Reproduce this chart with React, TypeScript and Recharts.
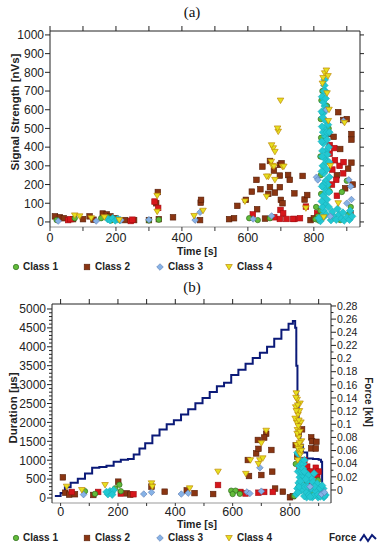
import React from "react";
import { ScatterChart, ComposedChart, Scatter, Line, XAxis, YAxis } from "recharts";

const FONT = '"Liberation Sans", Arial, sans-serif';

// axis ticks
const timeTicks = [0, 100, 200, 300, 400, 500, 600, 700, 800, 900];
const signalTicks = [0, 100, 200, 300, 400, 500, 600, 700, 800, 900, 1000];
const durationTicks = Array.from({ length: 51 }, (_, i) => i * 100);
const forceTicks = Array.from({ length: 29 }, (_, i) => +(i * 0.01).toFixed(2));

// (a) signal strength [nVs] vs time [s]
const aClass1 = [
  [20, 10], [75, 20], [155, 20], [175, 25], [200, 15], [185, 8], [300, 8], [330, 12], [630, 10], [604, 20],
  [667, 20], [807, 80], [812, 30], [805, 15], [820, 60], [822, 150], [821, 250], [820, 350], [822, 450],
  [821, 550], [823, 650], [826, 700], [848, 163], [842, 185], [885, 160], [900, 220], [912, 80], [905, 40],
  [880, 10], [860, 20], [840, 620], [845, 500], [815, 8],
];
const aClass2 = [
  [15, 30], [30, 25], [42, 20], [70, 15], [100, 15], [120, 30], [132, 12], [160, 45], [172, 40], [183, 30],
  [198, 20], [228, 10], [255, 10], [300, 10], [327, 160], [322, 100], [330, 15], [373, 25], [457, 103],
  [458, 118], [455, 10], [543, 15], [558, 20], [568, 86], [594, 118], [612, 162], [626, 225], [628, 68],
  [638, 175], [644, 296], [662, 150], [667, 186], [667, 326], [679, 275], [682, 157], [697, 305], [697, 248],
  [697, 186], [700, 118], [705, 100], [702, 314], [722, 251], [727, 225], [741, 153], [766, 246], [772, 120],
  [780, 144], [652, 18], [845, 470], [860, 455], [874, 587], [889, 545], [900, 550], [914, 470], [914, 440],
  [880, 390], [904, 285], [914, 317], [911, 46], [870, 250], [895, 180], [918, 200], [790, 10], [800, 20],
];
const aClass2Red = [
  [55, 10], [62, 15], [245, 5], [250, 12], [317, 109], [328, 75], [615, 40], [699, 64], [707, 46], [697, 16],
  [717, 16], [741, 16], [680, 25], [737, 16], [758, 20], [776, 82], [810, 46], [848, 411], [862, 395],
  [848, 365], [864, 330], [878, 300], [889, 260], [868, 225], [855, 200], [870, 140], [890, 320], [856, 280],
];
const aClass3 = [
  [25, 5], [140, 5], [215, 10], [300, 12], [440, 10], [455, 52], [616, 16], [672, 32], [808, 239], [812, 225],
  [906, 225], [912, 190], [914, 120], [900, 100], [890, 540], [838, 600], [850, 30],
];
const aClass3Dense = [
  [175, 15], [182, 10], [190, 20], [198, 8], [205, 15], [212, 10],
  [826, 20], [830, 60], [834, 100], [828, 140], [832, 180], [836, 220], [830, 260], [827, 300], [833, 340],
  [837, 380], [829, 420], [834, 460], [831, 500], [836, 540], [828, 580], [833, 620], [830, 660], [835, 700],
  [832, 730], [838, 40], [840, 120], [842, 200], [839, 280], [841, 360], [840, 440], [843, 520], [826, 80],
  [829, 200], [826, 380], [828, 480], [827, 560], [829, 640],
  [824, 30], [824, 110], [825, 190], [824, 270], [825, 350], [824, 430], [825, 510], [824, 590], [825, 670],
  [838, 160], [838, 320], [839, 480], [837, 600], [836, 660], [831, 700], [833, 760], [845, 80], [846, 160],
  [847, 240], [846, 320], [845, 400], [847, 480],
  [852, 10], [860, 30], [868, 12], [876, 40], [884, 18], [892, 8], [900, 25], [908, 12], [916, 30], [856, 55],
  [872, 70], [888, 50], [910, 60], [820, 5], [815, 20],
];
const aClass4 = [
  [75, 35], [90, 30], [125, 20], [165, 25], [210, 10], [325, 55], [325, 140], [437, 32], [464, 60], [591, 110],
  [657, 135], [662, 242], [657, 243], [671, 322], [674, 300], [679, 296], [682, 225], [677, 394], [672, 410],
  [682, 375], [692, 483], [690, 500], [699, 649], [705, 295], [709, 296], [776, 73], [833, 795], [828, 770],
  [838, 810], [843, 780], [826, 740], [840, 688], [846, 600], [844, 540], [874, 100], [893, 530], [850, 300],
  [830, 25],
];

// (b) duration [µs] vs time [s]
const bClass1 = [
  [85, 180], [190, 256], [205, 350], [595, 194], [610, 194], [600, 105], [625, 110], [850, 560], [855, 350],
  [898, 470], [830, 300], [905, 200], [880, 150], [820, 900], [815, 50], [210, 180], [120, 110],
];
const bClass2 = [
  [8, 547], [16, 140], [30, 90], [50, 100], [114, 80], [230, 123], [243, 90], [201, 432], [317, 300], [363, 167],
  [440, 200], [467, 130], [532, 105], [653, 1005], [657, 582], [682, 1180], [688, 1535], [690, 1300], [700, 608],
  [717, 1700], [710, 1600], [735, 1270], [738, 697], [748, 250], [775, 167], [842, 1817], [874, 1605],
  [877, 1500], [874, 1313], [892, 1487], [890, 1310], [800, 20], [810, 50], [820, 1400], [825, 1100], [830, 1700],
];
const bClass2Red = [
  [39, 160], [131, 160], [210, 120], [254, 100], [549, 344], [627, 160], [710, 160], [740, 160], [850, 1005],
  [833, 830], [860, 830], [850, 600], [872, 560], [883, 650], [866, 380], [890, 800], [895, 600], [900, 700],
  [870, 700], [645, 120], [690, 140],
];
const bClass3 = [
  [80, 90], [290, 105], [317, 150], [421, 105], [445, 130], [650, 160], [660, 120], [695, 800], [700, 180],
  [910, 100], [870, 300], [920, 150],
];
const bClass3Dense = [
  [165, 100], [172, 180], [178, 140], [185, 212], [160, 160], [180, 90],
  [822, 100], [826, 250], [830, 400], [834, 550], [828, 700], [832, 850], [836, 1000], [830, 1150], [834, 1300],
  [840, 200], [844, 600], [838, 900], [826, 1200], [842, 350],
  [828, 150], [832, 300], [836, 450], [840, 700], [846, 900], [850, 1000], [852, 300], [856, 650], [860, 450],
  [864, 600], [868, 200], [876, 500], [884, 650], [892, 250], [900, 300], [908, 180], [916, 250], [924, 80],
  [858, 20], [878, 20], [898, 20], [918, 20],
  [850, 50], [858, 150], [866, 80], [874, 250], [882, 60], [890, 180], [898, 90], [906, 40], [914, 120],
  [920, 60], [862, 300], [880, 420], [855, 500], [895, 380], [870, 30], [886, 300], [905, 260], [912, 330],
  [845, 780], [850, 700],
];
const bClass4 = [
  [74, 212], [155, 344], [317, 388], [320, 300], [450, 256], [549, 697], [646, 640], [662, 1000], [695, 1000],
  [700, 1450], [705, 1050], [717, 1780], [690, 900], [822, 2770], [825, 2600], [820, 2400], [828, 2200],
  [823, 2000], [826, 1800], [830, 1600], [824, 1400], [832, 1200], [827, 1000], [835, 2500], [838, 2000],
  [840, 1500], [818, 2100], [21, 300], [821, 2650], [827, 2450], [833, 2300], [829, 1900], [825, 1700],
  [835, 1750], [837, 1350], [833, 1450], [829, 1300], [836, 1150], [840, 1250], [822, 2300], [831, 2050],
];
// force [kN] vs time [s]
const force = [
  [-20, -0.009], [0, -0.0045], [15, 0.004], [35, 0.011], [60, 0.017], [85, 0.025], [110, 0.034], [135, 0.035],
  [160, 0.037], [185, 0.043], [210, 0.046], [235, 0.047], [255, 0.054], [275, 0.063], [295, 0.071], [320, 0.083],
  [345, 0.092], [370, 0.1], [395, 0.106], [420, 0.115], [445, 0.123], [470, 0.132], [495, 0.14], [520, 0.149],
  [545, 0.158], [570, 0.163], [595, 0.175], [620, 0.183], [645, 0.192], [670, 0.201], [695, 0.209], [720, 0.218],
  [745, 0.23], [770, 0.244], [795, 0.253], [810, 0.257], [818, 0.247], [822, 0.189], [826, 0.132], [830, 0.092],
  [836, 0.069], [845, 0.057], [860, 0.048], [880, 0.047], [900, 0.046], [908, 0.043], [912, 0.005], [918, -0.008],
];

const sig = (rows: number[][]) => rows.map(([t, v]) => ({ t, v }));
const dur = (rows: number[][]) => rows.map(([t, d]) => ({ t, d }));
const forceData = force.map(([t, f]) => ({ t, f }));

const C1 = { fill: "#62bb3a", stroke: "#2f6e1c" };
const C2 = { fill: "#8a3512", stroke: "#561e08" };
const C2R = { fill: "#d6161b", stroke: "#a30c10" };
const C3 = { fill: "#86b2e6", stroke: "#5a78b0" };
const C3D = { fill: "#22c8d2", stroke: "#1aaeb8" };
const C4 = { fill: "#e6e01e", stroke: "#c08a0a" };

const circle = (c: any) => (p: any) => (
  <circle cx={p.cx} cy={p.cy} r={2.7} fill={c.fill} stroke={c.stroke} strokeWidth={0.7} />
);
const square = (c: any) => (p: any) => (
  <rect x={p.cx - 2.8} y={p.cy - 2.8} width={5.6} height={5.6} fill={c.fill} stroke={c.stroke} strokeWidth={0.6} />
);
const diamond = (c: any, r = 3.3) => (p: any) => (
  <path
    d={`M${p.cx},${p.cy - r}L${p.cx + r},${p.cy}L${p.cx},${p.cy + r}L${p.cx - r},${p.cy}Z`}
    fill={c.fill}
    stroke={c.stroke}
    strokeWidth={0.6}
  />
);
const triDown = (c: any) => (p: any) => (
  <path
    d={`M${p.cx - 3.3},${p.cy - 2.5}L${p.cx + 3.3},${p.cy - 2.5}L${p.cx},${p.cy + 3}Z`}
    fill={c.fill}
    stroke={c.stroke}
    strokeWidth={0.7}
  />
);

const tickText = { fontSize: 12, fill: "#222", fontFamily: FONT };
const timeTick = { fontSize: 12.5, fill: "#222", fontFamily: FONT };
const everyOther = (v: number) => (v % 200 === 0 ? String(v) : "");
const blank = () => "";

const DurTick = (props: any) => {
  const { x, y, payload } = props;
  const major = payload.value % 500 === 0;
  return (
    <g>
      <line x1={x - (major ? 5 : 3)} x2={x} y1={y} y2={y} stroke="#222" strokeWidth={1} />
      {major && (
        <text x={x - 6} y={y} dy="0.36em" textAnchor="end" {...tickText}>
          {payload.value}
        </text>
      )}
    </g>
  );
};

const ForceTick = (props: any) => {
  const { x, y, payload } = props;
  const major = Math.round(payload.value * 100) % 2 === 0;
  return (
    <g>
      <line x1={x} x2={x + (major ? 5 : 2.5)} y1={y} y2={y} stroke="#222" strokeWidth={1} />
      {major && (
        <text x={x + 6} y={y} dy="0.36em" textAnchor="start" fontSize={10.5} fill="#222" fontFamily={FONT}>
          {String(+payload.value.toFixed(2))}
        </text>
      )}
    </g>
  );
};

const Sym = ({ kind, c }: any) => {
  const p = { cx: 5, cy: 5 };
  const el =
    kind === "circle" ? circle(c)(p) : kind === "square" ? square(c)(p) : kind === "diamond" ? diamond(c)(p) : triDown(c)(p);
  return (
    <svg width={10} height={10} style={{ position: "absolute", left: -5, top: -5 }}>
      {el}
    </svg>
  );
};

const legendItems = [
  { label: "Class 1", kind: "circle", c: C1, x: 16, tx: 23 },
  { label: "Class 2", kind: "square", c: C2, x: 87, tx: 95 },
  { label: "Class 3", kind: "diamond", c: C3, x: 160, tx: 168 },
  { label: "Class 4", kind: "tri", c: C4, x: 229, tx: 237 },
];

const labelStyle: React.CSSProperties = {
  position: "absolute",
  fontFamily: FONT,
  fontWeight: "bold",
  color: "#222",
  lineHeight: "14px",
  whiteSpace: "nowrap",
};

const Legend = ({ y, force: withForce }: any) => (
  <>
    {legendItems.map((it) => (
      <React.Fragment key={it.label}>
        <div style={{ position: "absolute", left: it.x, top: y }}>
          <Sym kind={it.kind} c={it.c} />
        </div>
        <div style={{ ...labelStyle, left: it.tx, top: y - 7, fontSize: 10 }}>{it.label}</div>
      </React.Fragment>
    ))}
    {withForce && (
      <>
        <div style={{ ...labelStyle, left: 329, top: y - 7, fontSize: 10 }}>Force</div>
        <svg width={18} height={12} style={{ position: "absolute", left: 359, top: y - 6 }}>
          <path d="M1,9 L5,3 L9,9 L13,3 L17,7" fill="none" stroke="#0b1a78" strokeWidth={2} />
        </svg>
      </>
    )}
  </>
);

const Rotated = ({ text, cx, cy, angle, size }: any) => (
  <div
    style={{
      ...labelStyle,
      left: cx - 100,
      top: cy - 7,
      width: 200,
      textAlign: "center",
      fontSize: size,
      transform: `rotate(${angle}deg)`,
    }}
  >
    {text}
  </div>
);

const Title = ({ text, y }: any) => (
  <div
    style={{
      position: "absolute",
      left: 0,
      width: 384,
      top: y - 9,
      textAlign: "center",
      fontFamily: '"Liberation Serif", "Times New Roman", serif',
      fontSize: 15,
      lineHeight: "18px",
      color: "#111",
    }}
  >
    {text}
  </div>
);

export default function App() {
  return (
    <div style={{ position: "absolute", left: 0, top: 0, width: 380, height: 550, background: "#fff", overflow: "hidden" }}>
      <Title text="(a)" y={12} />
      <div style={{ position: "absolute", left: 0, top: 0 }}>
        <ScatterChart width={380} height={250} margin={{ top: 26, right: 0, bottom: 0, left: 0 }}>
          <XAxis
            dataKey="t"
            type="number"
            domain={[0, 940]}
            ticks={timeTicks}
            interval={0}
            tickFormatter={everyOther}
            height={23}
            tickSize={4}
            tickMargin={2}
            tick={timeTick}
            axisLine={{ stroke: "#999" }}
            tickLine={{ stroke: "#333" }}
            allowDataOverflow
          />
          <XAxis
            xAxisId="top"
            orientation="top"
            dataKey="t"
            type="number"
            domain={[0, 940]}
            ticks={timeTicks}
            interval={0}
            tickFormatter={blank}
            height={5}
            tickSize={5}
            axisLine={{ stroke: "#222" }}
            tickLine={{ stroke: "#222" }}
            allowDataOverflow
          />
          <YAxis
            dataKey="v"
            type="number"
            domain={[-27, 1021]}
            ticks={signalTicks}
            interval={0}
            width={50}
            tickSize={5}
            tickMargin={1}
            tick={tickText}
            axisLine={{ stroke: "#222" }}
            tickLine={{ stroke: "#222" }}
            allowDataOverflow
          />
          <YAxis
            yAxisId="r"
            orientation="right"
            dataKey="v"
            type="number"
            domain={[-27, 1021]}
            ticks={signalTicks}
            interval={0}
            tickFormatter={blank}
            width={20}
            tickSize={4}
            axisLine={{ stroke: "#222" }}
            tickLine={{ stroke: "#222" }}
            allowDataOverflow
          />
          <Scatter name="Class 2" data={sig(aClass2)} shape={square(C2)} isAnimationActive={false} />
          <Scatter name="Class 2 " data={sig(aClass2Red)} shape={square(C2R)} isAnimationActive={false} />
          <Scatter name="Class 1" data={sig(aClass1)} shape={circle(C1)} isAnimationActive={false} />
          <Scatter name="Class 3 " data={sig(aClass3Dense)} shape={diamond(C3D, 3.8)} isAnimationActive={false} />
          <Scatter name="Class 3" data={sig(aClass3)} shape={diamond(C3)} isAnimationActive={false} />
          <Scatter name="Class 4" data={sig(aClass4)} shape={triDown(C4)} isAnimationActive={false} />
        </ScatterChart>
      </div>
      <Rotated text="Signal Strength [nVs]" cx={15} cy={112} angle={-90} size={11.5} />
      <div style={{ ...labelStyle, left: 0, width: 394, textAlign: "center", top: 244, fontSize: 10.5 }}>Time [s]</div>
      <Legend y={267} />

      <Title text="(b)" y={287} />
      <div style={{ position: "absolute", left: 0, top: 280 }}>
        <ComposedChart width={380} height={240} margin={{ top: 19, right: 0, bottom: 0, left: 0 }}>
          <XAxis
            dataKey="t"
            type="number"
            domain={[-30, 943]}
            ticks={timeTicks}
            interval={0}
            tickFormatter={everyOther}
            height={17}
            tickSize={3}
            tickMargin={1}
            tick={timeTick}
            axisLine={{ stroke: "#999" }}
            tickLine={{ stroke: "#333" }}
            allowDataOverflow
          />
          <XAxis
            xAxisId="top"
            orientation="top"
            dataKey="t"
            type="number"
            domain={[-30, 943]}
            ticks={timeTicks}
            interval={0}
            tickFormatter={blank}
            height={5}
            tickSize={5}
            axisLine={{ stroke: "#222" }}
            tickLine={{ stroke: "#222" }}
            allowDataOverflow
          />
          <YAxis
            dataKey="d"
            type="number"
            domain={[-132, 5132]}
            ticks={durationTicks}
            width={52}
            tickSize={0}
            tickMargin={0}
            tickLine={false}
            tick={<DurTick />}
            axisLine={{ stroke: "#222" }}
            interval={0}
            allowDataOverflow
          />
          <YAxis
            yAxisId="r"
            orientation="right"
            dataKey="f"
            type="number"
            domain={[-0.0198, 0.283]}
            ticks={forceTicks}
            width={49}
            tickSize={0}
            tickMargin={0}
            tickLine={false}
            tick={<ForceTick />}
            axisLine={{ stroke: "#222" }}
            interval={0}
            allowDataOverflow
          />
          <Scatter name="Class 2" data={dur(bClass2)} shape={square(C2)} isAnimationActive={false} />
          <Scatter name="Class 2 " data={dur(bClass2Red)} shape={square(C2R)} isAnimationActive={false} />
          <Scatter name="Class 1" data={dur(bClass1)} shape={circle(C1)} isAnimationActive={false} />
          <Scatter name="Class 3 " data={dur(bClass3Dense)} shape={diamond(C3D, 3.8)} isAnimationActive={false} />
          <Scatter name="Class 3" data={dur(bClass3)} shape={diamond(C3)} isAnimationActive={false} />
          <Line
            yAxisId="r"
            data={forceData}
            dataKey="f"
            type="stepAfter"
            stroke="#0b1a78"
            strokeWidth={2}
            dot={false}
            isAnimationActive={false}
          />
          <Scatter name="Class 4" data={dur(bClass4)} shape={triDown(C4)} isAnimationActive={false} />
        </ComposedChart>
      </div>
      <Rotated text="Duration [µs]" cx={13} cy={408} angle={-90} size={11.5} />
      <Rotated text="Force [kN]" cx={368} cy={402} angle={90} size={10} />
      <div style={{ ...labelStyle, left: 0, width: 394, textAlign: "center", top: 517, fontSize: 10.5 }}>Time [s]</div>
      <Legend y={538} force />
    </div>
  );
}
